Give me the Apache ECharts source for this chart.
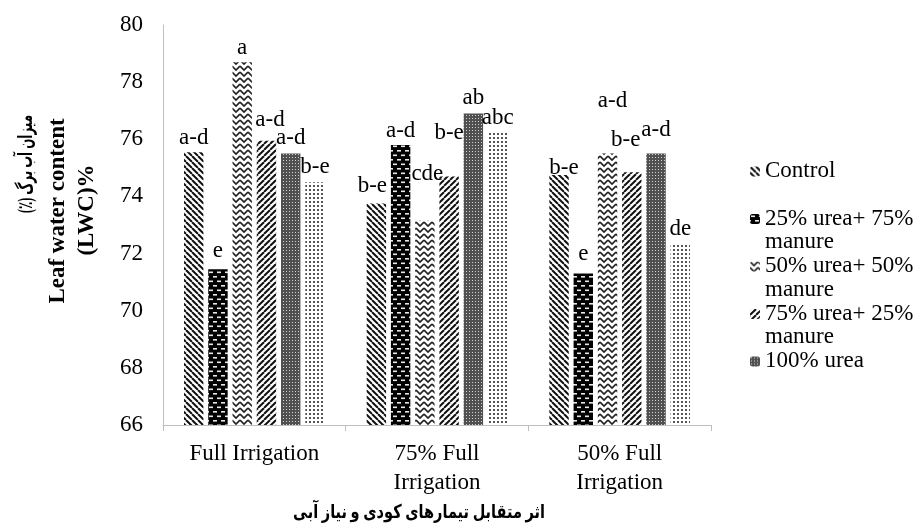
<!DOCTYPE html>
<html><head><meta charset="utf-8">
<script src="https://cdn.jsdelivr.net/npm/echarts/dist/echarts.min.js"></script>
<style>html,body{margin:0;padding:0;background:#fff}#c{width:918px;height:525px}</style>
</head><body><div id="c"></div>
<script>
// ---- data ----
const categories = ['Full Irrigation', '75% Full\nIrrigation', '50% Full\nIrrigation'];
const seriesNames = ['Control', '25% urea+ 75% manure', '50% urea+ 50% manure', '75% urea+ 25% manure', '100% urea', '100% manure'];
const legendNames = ['Control', '25% urea+ 75% manure', '50% urea+ 50% manure', '75% urea+ 25% manure', '100% urea'];
const legendTexts = ['Control', '25% urea+ 75%\nmanure', '50% urea+ 50%\nmanure', '75% urea+ 25%\nmanure', '100% urea'];
const control   = [75.55, 73.75, 74.75];
const urea25    = [71.45, 75.80, 71.30];
const urea50    = [78.70, 73.15, 75.50];
const urea75    = [75.95, 74.70, 74.85];
const urea100   = [75.50, 76.90, 75.50];
const manure100 = [74.50, 76.25, 72.35];
const lettersControl = ['a-d', 'b-e', 'b-e'];
const letters25      = ['e', 'a-d', 'e'];
const letters50      = ['a', 'cde', 'a-d'];
const letters75      = ['a-d', 'b-e', 'b-e'];
const letters100     = ['a-d', 'ab', 'a-d'];
const lettersManure  = ['b-e', 'abc', 'de'];
const yMin = 66, yMax = 80, yStep = 2;
const yTitleFa = '(٪) میزان آب برگ';
const yTitle1 = 'Leaf water content';
const yTitle2 = '(LWC)%';
const xTitle = 'اثر متقابل تیمارهای کودی و نیاز آبی';

// ---- label placement styling (pixels above bar top, horizontal nudge) ----
const labelGap = [[8.4, 12, 1.5], [12.7, 9, 14], [8.3, 41, 47], [15, 38, 26.7], [10, 10.6, 18], [10, 8.4, 8.7]];
const labelDx  = [[0, -4, 5], [0, 0, 0], [0, 2.5, 5], [3.5, 0, -6], [0, 0, 0], [0, 0, 0]];

// ---- patterns ----
function mk(w, h, draw, bg) {
  const c = document.createElement('canvas'); c.width = w; c.height = h;
  const g = c.getContext('2d'); g.fillStyle = bg || '#fff'; g.fillRect(0, 0, w, h); draw(g, w, h); return c;
}
const pats = [
  mk(6, 6, (g, w, h) => { g.strokeStyle = '#111'; g.lineWidth = 2; for (let k = -1; k <= 1; k++) { g.beginPath(); g.moveTo(k * w, 0); g.lineTo(k * w + w, h); g.stroke(); } }),
  mk(8, 9, (g) => { g.fillStyle = '#e8e8e8'; g.fillRect(1, 1.5, 4, 1.6); g.fillRect(5, 6, 4, 1.6); g.fillRect(-3, 6, 4, 1.6); }, '#000'),
  mk(8, 6, (g) => { g.strokeStyle = '#222'; g.lineWidth = 1.6; for (let o = -6; o <= 6; o += 6) { g.beginPath(); g.moveTo(0, o); g.lineTo(4, o + 4); g.lineTo(8, o); g.stroke(); } }),
  mk(6, 6, (g, w, h) => { g.strokeStyle = '#111'; g.lineWidth = 2; for (let k = -1; k <= 1; k++) { g.beginPath(); g.moveTo(k * w, h); g.lineTo(k * w + w, 0); g.stroke(); } }),
  mk(3, 3, (g) => { g.fillStyle = '#d0d0d0'; g.fillRect(1, 1, 1, 1); }, '#505050'),
  mk(4, 4, (g) => { g.fillStyle = '#555'; g.fillRect(1, 1, 2, 2); })
];

const values = [control, urea25, urea50, urea75, urea100, manure100];
const letters = [lettersControl, letters25, letters50, letters75, letters100, lettersManure];
const FONT = "'Liberation Serif', 'Times New Roman', serif";

// compress Persian titles horizontally to the reference widths
const FAFAM = "'Liberation Serif', 'DejaVu Sans'";
function fitScale(text, target, font) {
  const ctx = document.createElement('canvas').getContext('2d');
  ctx.font = font;
  const w = ctx.measureText(text).width || target;
  return Math.min(1, target / w);
}
const xTitleFont = 'bold 19px ' + FAFAM;
const yFaFont = 'bold 20px ' + FAFAM;
const xTitleScale = fitScale(xTitle, 252, xTitleFont);
const yFaScale = fitScale(yTitleFa, 98, yFaFont);

const series = values.map((vals, s) => ({
  type: 'bar', name: seriesNames[s], barGap: '25%', barCategoryGap: '23%',
  itemStyle: { color: { image: pats[s], repeat: 'repeat' } },
  emphasis: { disabled: true },
  label: { show: true, position: 'top', color: '#000', fontFamily: FONT, fontSize: 23 },
  data: vals.map((v, i) => ({ value: v, label: { formatter: letters[s][i], distance: labelGap[s][i] - 6, offset: [labelDx[s][i], 0] } }))
}));

const chart = echarts.init(document.getElementById('c'), null, { renderer: 'canvas' });
chart.setOption({
  animation: false,
  backgroundColor: '#fff',
  grid: { left: 163, right: 207, top: 25, bottom: 100, containLabel: false },
  xAxis: {
    type: 'category', data: categories,
    axisLine: { lineStyle: { color: '#bfbfbf', width: 1 } },
    axisTick: { show: true, length: 6, lineStyle: { color: '#bfbfbf' } },
    axisLabel: { color: '#000', fontFamily: FONT, fontSize: 23, lineHeight: 29, margin: 14, interval: 0 }
  },
  yAxis: {
    type: 'value', min: yMin, max: yMax, interval: yStep,
    axisLine: { show: true, lineStyle: { color: '#bfbfbf', width: 1 } },
    axisTick: { show: false },
    splitLine: { show: false },
    axisLabel: { color: '#000', fontFamily: FONT, fontSize: 23, margin: 20 }
  },
  legend: {
    data: legendNames, orient: 'vertical', left: 750, top: 136.5, padding: 0,
    itemWidth: 10, itemHeight: 10, itemGap: -22.4,
    textStyle: { color: '#000', fontFamily: FONT, fontSize: 23, lineHeight: 23.3 },
    formatter: (name) => { const t = legendTexts[legendNames.indexOf(name)]; return '\n' + t + (t.indexOf('\n') < 0 ? '\n ' : ''); },
    selectedMode: false
  },
  graphic: [
    { type: 'text', x: 419, y: 513, scaleX: xTitleScale, style: { text: xTitle, font: xTitleFont, fill: '#000', textAlign: 'center', textVerticalAlign: 'middle' } },
    { type: 'text', x: 27, y: 164, rotation: Math.PI / 2, scaleX: yFaScale, style: { text: yTitleFa, font: yFaFont, fill: '#000', textAlign: 'center', textVerticalAlign: 'middle' } },
    { type: 'text', x: 58, y: 211, rotation: Math.PI / 2, style: { text: yTitle1, font: "bold 23px 'Liberation Serif'", fill: '#000', textAlign: 'center', textVerticalAlign: 'middle' } },
    { type: 'text', x: 87, y: 210, rotation: Math.PI / 2, style: { text: yTitle2, font: "bold 23px 'Liberation Serif'", fill: '#000', textAlign: 'center', textVerticalAlign: 'middle' } }
  ],
  series: series
});
</script></body></html>
